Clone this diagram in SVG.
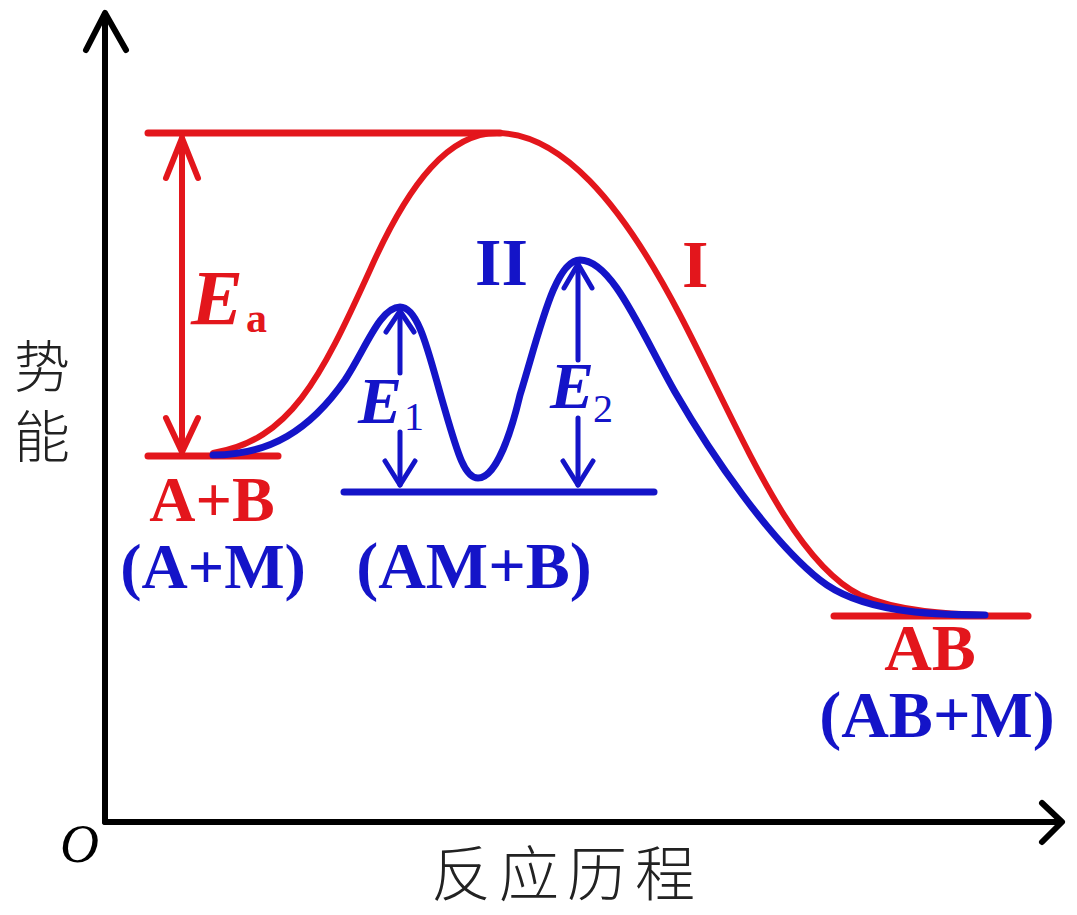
<svg xmlns="http://www.w3.org/2000/svg" width="1077" height="915" viewBox="0 0 1077 915">
<style>
.ax{stroke:#000;stroke-width:6;fill:none;stroke-linecap:round;stroke-linejoin:round}
.r{stroke:#e3161c;fill:none;stroke-width:6;stroke-linecap:round;stroke-linejoin:round}
.b{stroke:#1414c8;fill:none;stroke-width:7;stroke-linecap:round;stroke-linejoin:round}
.bs{stroke-width:5}
.rl{stroke:#e3161c;stroke-width:7;stroke-linecap:round}
.bl{stroke:#1414c8;stroke-width:7;stroke-linecap:round}
.tm{font-family:"Liberation Serif","Times New Roman",serif;font-weight:bold}
.rt{fill:#e3161c}
.bt{fill:#1414c8}
.cjk{font-family:"Noto Sans CJK SC","Noto Sans CJK JP",sans-serif;fill:#222;font-weight:300}
</style>
<rect width="1077" height="915" fill="#fff"/>
<g id="axes">
<line class="ax" x1="105" y1="14" x2="105" y2="822"/>
<polyline class="ax" points="86,50 105,13 126,50"/>
<line class="ax" x1="105" y1="822" x2="1060" y2="822"/>
<polyline class="ax" points="1042,803 1062,822 1042,842"/>
<text x="60" y="862" font-family="Liberation Serif,serif" font-style="italic" font-size="54" fill="#000">O</text>
<text class="cjk" x="567" y="896" font-size="60" text-anchor="middle" letter-spacing="8">反应历程</text>
<text class="cjk" x="42" y="338" font-size="56" writing-mode="tb" letter-spacing="14">势能</text>
</g>
<g id="levels">
<line class="rl" x1="148" y1="133" x2="500" y2="133"/>
<line class="rl" x1="148" y1="456" x2="278" y2="456"/>
<line class="rl" x1="834" y1="616" x2="1028" y2="616"/>
<line class="bl" x1="344" y1="492" x2="654" y2="492"/>
</g>
<g id="connectors">
<path id="curve-I" class="r" d="M213 453 C290 440 320 380 370 270 C410 180 450 133 497 133 C560 133 620 200 680 315 C740 430 790 560 860 595 C900 612 950 614 985 615"/>
<path id="curve-II" class="b" d="M213 455 C270 455 310 430 345 380 C365 350 380 307 400 307 C420 307 430 360 445 410 C458 455 465 478 478 478 C492 478 507 450 520 395 C540 330 555 260 580 260 C612 260 640 330 675 392 C712 456 770 540 820 580 C860 612 930 615 985 615"/>
<g id="arrow-Ea">
<line class="r" x1="182" y1="138" x2="182" y2="452"/>
<polyline class="r" points="166,178 182,138 198,178"/>
<polyline class="r" points="166,418 182,452 198,418"/>
</g>
<g id="arrow-E1">
<line class="b bs" x1="400" y1="311" x2="400" y2="373"/>
<line class="b bs" x1="400" y1="432" x2="400" y2="485"/>
<polyline class="b bs" points="386,332 400,311 414,332"/>
<polyline class="b bs" points="385,461 400,485 415,461"/>
</g>
<g id="arrow-E2">
<line class="b bs" x1="578" y1="264" x2="578" y2="360"/>
<line class="b bs" x1="578" y1="418" x2="578" y2="485"/>
<polyline class="b bs" points="564,288 578,264 592,288"/>
<polyline class="b bs" points="563,461 578,485 593,461"/>
</g>
</g>
<g id="label-Ea" class="tm rt">
<text x="191" y="324" font-size="78" font-style="italic">E</text>
<text x="246" y="332" font-size="42">a</text>
</g>
<g id="label-E1" class="tm bt">
<text x="358" y="423" font-size="66" font-style="italic">E</text>
<text x="404" y="430" font-size="40" font-weight="normal">1</text>
</g>
<g id="label-E2" class="tm bt">
<text x="550" y="408" font-size="66" font-style="italic">E</text>
<text x="593" y="422" font-size="40" font-weight="normal">2</text>
</g>
<g id="label-II"><text class="tm bt" x="475" y="285" font-size="68">II</text></g>
<g id="label-I"><text class="tm rt" x="682" y="287" font-size="68">I</text></g>
<g id="node-AB-start">
<text class="tm rt" x="212" y="521" font-size="64" text-anchor="middle">A+B</text>
<text class="tm bt" x="213" y="588" font-size="64" text-anchor="middle">(A+M)</text>
</g>
<g id="node-AM-B">
<text class="tm bt" x="474" y="588" font-size="66" text-anchor="middle">(AM+B)</text>
</g>
<g id="node-AB-end">
<text class="tm rt" x="930" y="670" font-size="66" text-anchor="middle">AB</text>
<text class="tm bt" x="937" y="737" font-size="66" text-anchor="middle">(AB+M)</text>
</g>
</svg>
